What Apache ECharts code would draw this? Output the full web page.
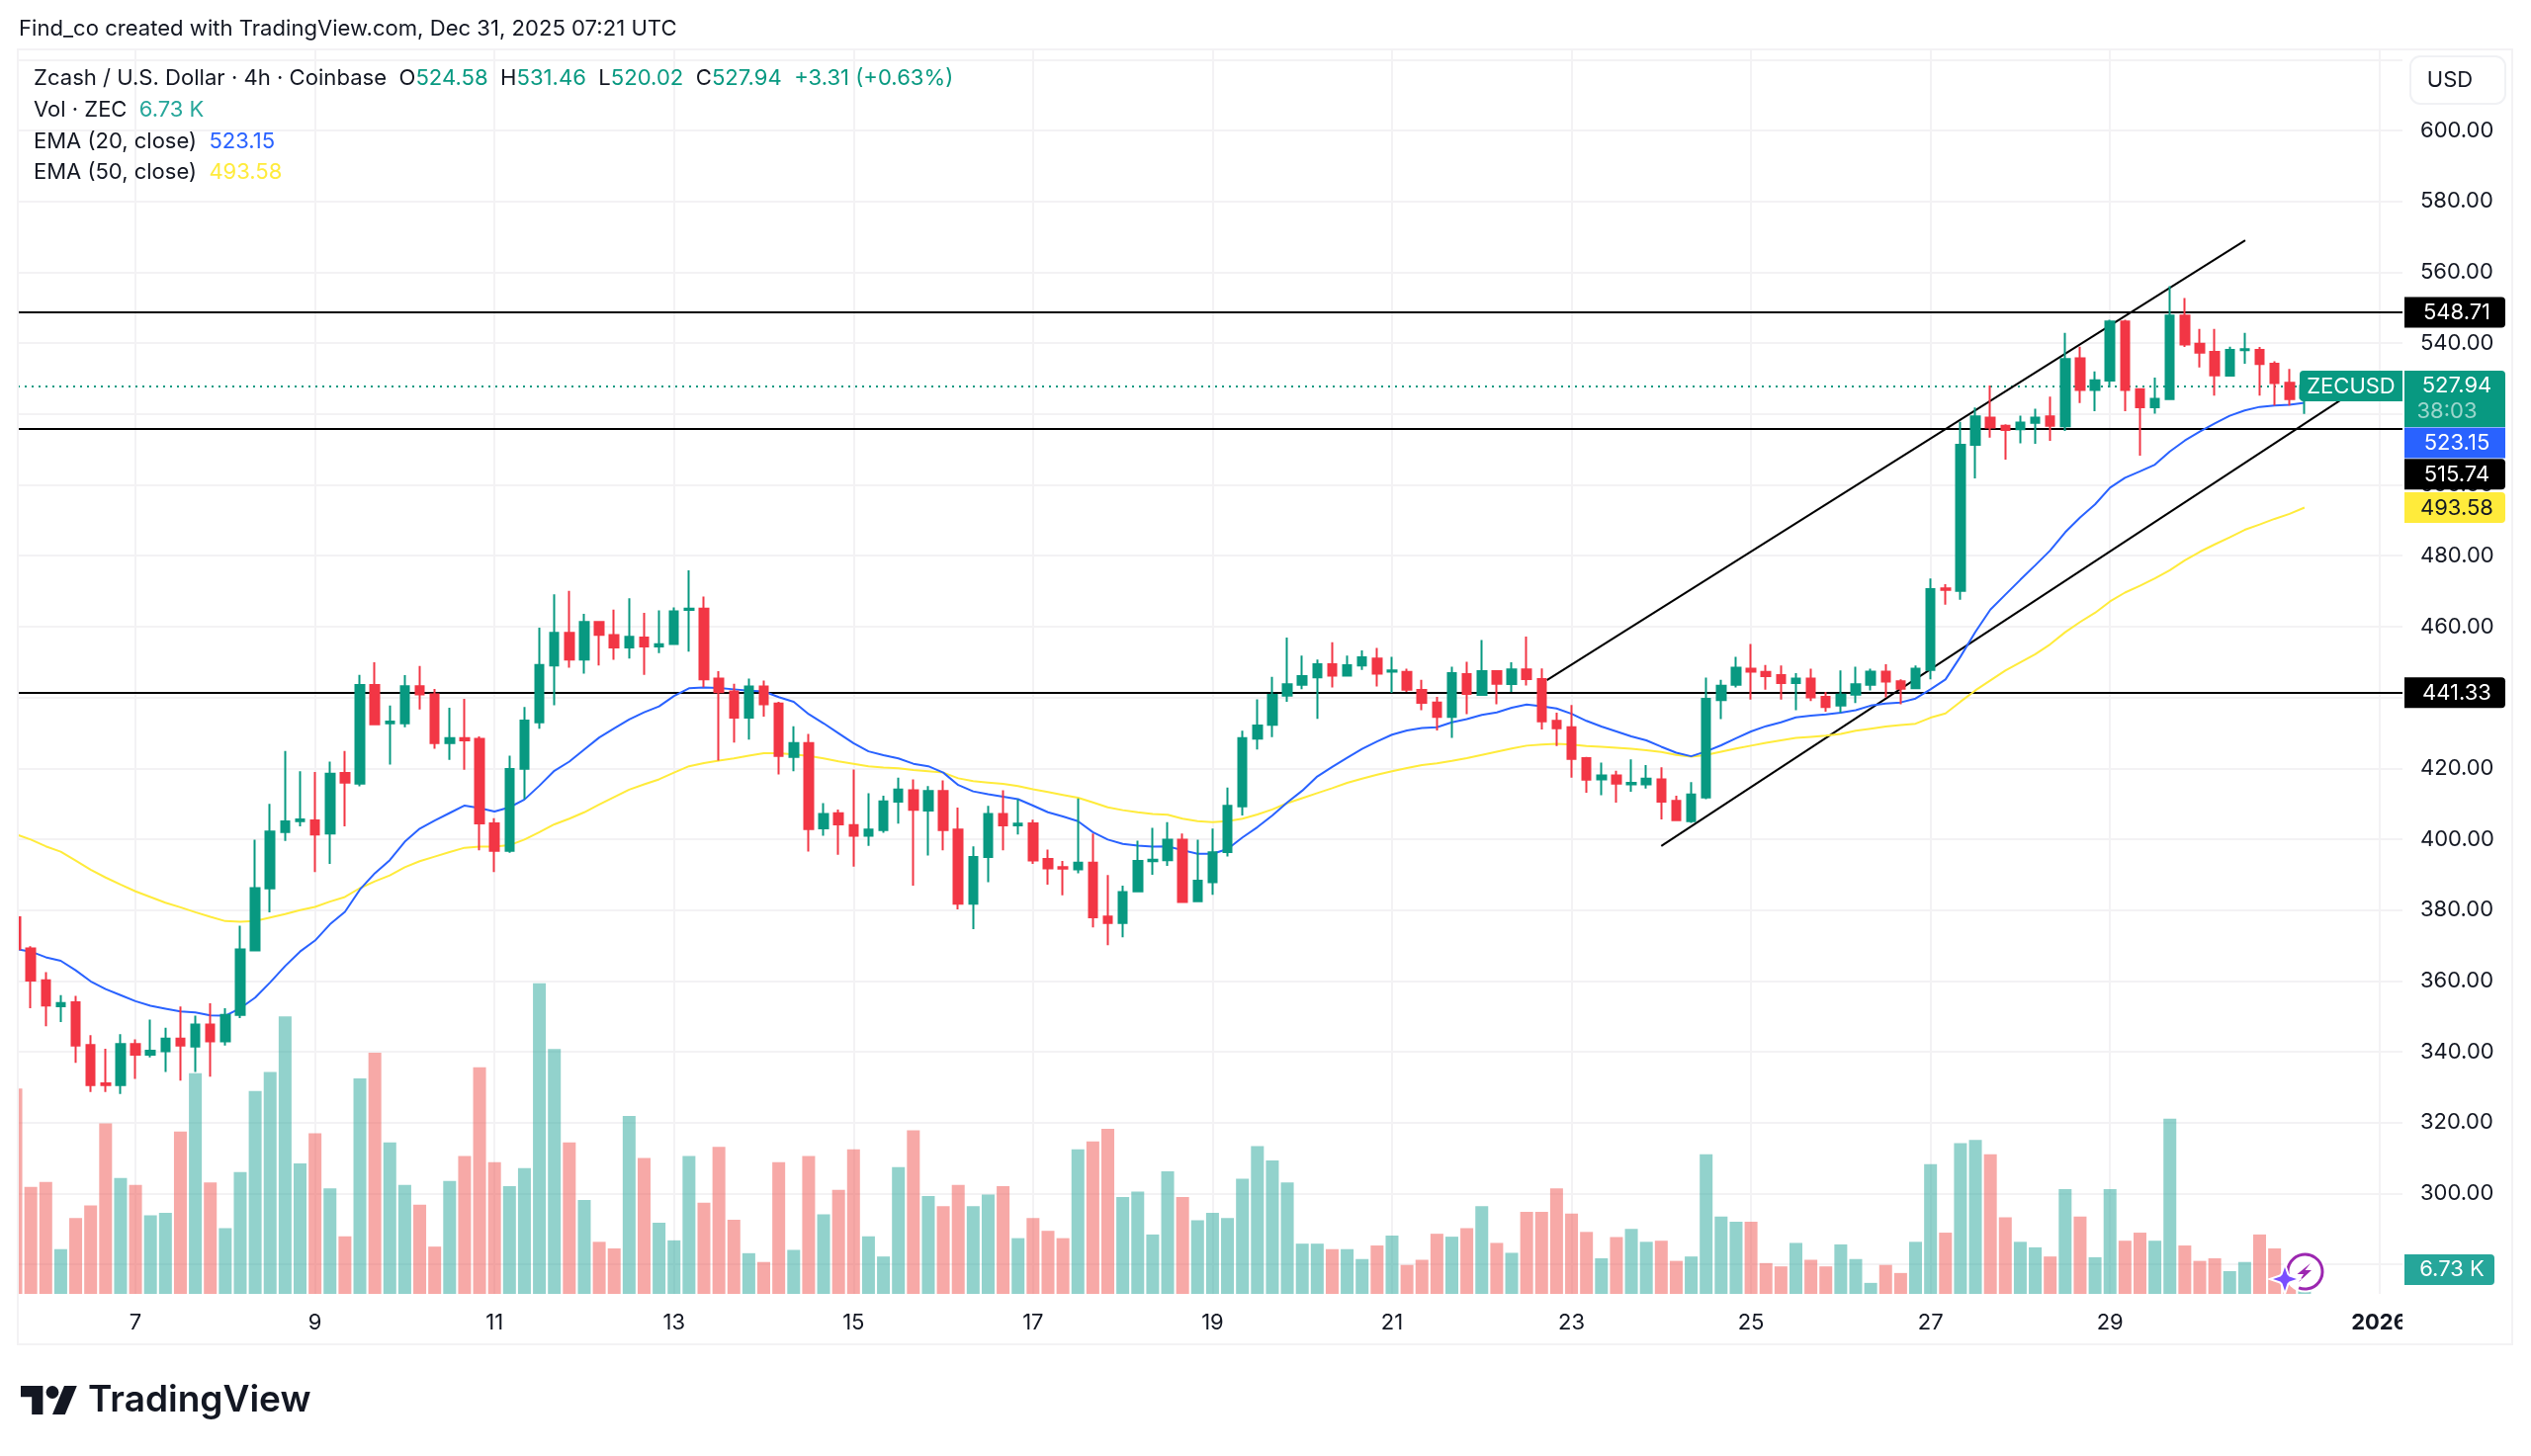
<!DOCTYPE html>
<html>
<head>
<meta charset="utf-8">
<title>ZECUSD 4h</title>
<style>html,body{margin:0;padding:0;background:#fff}#chart{width:2560px;height:1473px}</style>
<script src="https://cdn.jsdelivr.net/npm/echarts@6/dist/echarts.min.js"></script>
</head>
<body>
<div id="chart"></div>
<script>
// Zcash / U.S. Dollar, 4h bars from Coinbase, Dec 5 16:00 UTC to Dec 31 04:00 UTC.
// The horizontal axis counts bars; bar 8 opens Dec 7 00:00 UTC.
const openPrices = [378.0,369.2,360.2,352.9,354.0,341.9,331.1,330.6,342.2,339.2,340.2,343.7,341.5,347.7,343.0,350.4,368.6,386.1,402.0,405.1,405.3,401.6,418.7,415.7,443.5,432.7,432.7,443.2,440.9,427.1,428.5,428.3,404.5,396.7,419.9,433.0,449.0,458.2,450.7,461.3,457.6,454.1,456.9,454.4,455.1,464.7,465.1,445.3,441.7,434.3,443.1,438.3,423.2,427.1,403.1,407.3,404.0,401.0,402.6,410.6,413.8,408.1,413.6,402.7,381.8,395.0,407.1,403.9,404.5,394.4,392.1,391.5,393.4,378.2,376.4,385.3,393.8,394.1,399.9,382.5,387.9,396.4,409.3,428.4,432.3,440.5,443.6,445.7,449.4,446.2,449.0,451.0,447.3,447.2,442.1,438.6,434.5,446.6,440.7,447.4,443.8,447.9,445.2,433.4,431.6,422.9,416.9,418.0,415.5,415.5,416.9,410.8,405.1,411.8,439.3,443.6,448.1,447.2,446.3,444.1,445.3,440.2,437.7,440.8,443.6,447.3,444.6,442.6,447.8,470.8,470.1,511.3,519.0,516.7,515.7,517.5,519.3,516.5,535.7,526.8,529.4,546.1,527.0,521.9,524.2,547.8,539.8,537.5,530.8,538.0,538.1,534.2,528.8,524.58];
const closePrices = [369.0,360.1,353.1,353.8,341.8,330.6,330.6,342.2,339.2,340.3,343.7,341.8,347.7,343.0,350.4,368.9,386.2,402.2,405.0,405.6,401.3,418.5,416.0,443.5,432.4,433.2,443.2,440.9,427.1,428.5,427.9,404.5,396.7,419.8,433.5,449.2,458.2,450.7,461.3,457.7,454.1,457.1,454.4,455.0,464.3,465.1,445.1,441.5,434.3,443.1,438.1,423.5,427.1,402.9,407.1,404.2,401.0,402.7,410.7,414.0,408.3,413.6,402.6,381.8,395.0,407.1,403.9,404.4,394.0,391.8,391.7,393.4,378.0,376.4,385.1,393.9,394.2,399.9,382.3,388.3,396.3,409.4,428.5,432.1,440.7,443.7,446.0,449.4,446.2,449.1,451.3,446.7,447.6,442.2,438.5,434.5,446.9,441.0,447.4,443.9,447.9,445.2,433.3,431.3,422.7,416.8,418.0,415.7,415.9,417.1,410.6,405.4,412.6,439.6,443.3,448.4,447.3,446.0,444.1,445.3,440.0,437.3,440.8,443.7,447.3,444.5,442.5,448.1,470.6,470.4,511.3,519.3,516.2,515.5,517.6,519.0,516.7,535.5,526.8,529.5,546.1,526.8,521.9,524.3,547.8,539.6,537.3,530.9,538.1,538.3,534.1,528.7,524.2,527.94];
const lowPrices = [368.9,352.3,347.2,348.4,336.9,328.7,328.7,328.1,332.4,338.4,334.3,331.9,334.3,333.0,341.8,349.5,368.6,379.4,399.5,403.6,390.7,393.0,403.6,414.9,432.2,421.1,431.6,436.6,425.5,422.4,419.6,396.9,390.7,396.2,411.3,431.2,437.8,448.4,446.7,449.0,450.6,451.0,446.4,452.5,455.1,452.9,442.9,422.2,427.3,428.1,434.6,418.3,419.2,396.5,401.0,395.6,392.3,398.1,401.8,404.4,386.9,395.4,396.9,380.2,374.6,387.9,396.9,401.3,393.0,387.2,384.2,390.4,375.1,370.1,372.3,385.0,390.0,392.5,382.3,382.2,384.3,395.1,406.7,425.3,428.8,438.8,442.3,434.0,442.8,446.2,447.8,443.1,441.3,441.6,436.4,430.7,428.6,435.3,440.7,438.1,441.6,443.4,431.0,426.3,417.4,413.1,412.4,410.3,413.4,414.3,405.6,405.1,404.6,411.3,433.9,442.8,439.4,442.2,439.4,436.4,439.0,436.0,435.7,438.4,442.0,440.0,438.1,442.5,445.1,466.2,467.6,501.8,513.3,507.1,511.7,511.6,512.4,515.2,523.1,520.8,527.5,520.8,508.2,520.1,524.2,538.9,533.1,525.2,530.6,534.2,525.2,522.4,522.4,520.02];
const highPrices = [378.0,369.8,362.5,356.0,355.8,344.7,340.9,345.0,343.5,349.1,346.8,352.8,350.2,353.7,352.3,375.6,399.9,410.0,424.9,419.2,419.0,421.9,424.9,446.4,449.9,437.7,446.3,448.9,442.4,437.1,439.6,429.0,405.9,423.6,437.3,459.7,469.1,470.1,463.6,461.3,464.8,468.0,463.9,464.6,465.4,475.9,468.5,447.4,443.9,445.3,444.8,438.8,431.9,429.7,410.2,408.4,419.7,413.0,412.3,417.4,416.9,415.0,416.6,408.9,398.0,409.4,413.8,411.3,405.5,397.1,393.9,411.5,401.6,389.9,386.9,399.6,403.2,404.8,401.6,399.9,403.0,414.6,430.6,439.5,445.8,456.9,451.8,450.7,455.6,451.8,453.3,454.0,451.5,448.1,445.0,440.2,448.7,450.1,456.2,447.5,449.9,457.2,448.2,435.7,437.9,423.2,421.6,419.3,422.5,420.9,420.3,412.3,416.1,445.6,445.0,451.5,455.1,449.2,449.0,446.9,448.1,441.6,447.6,448.7,448.1,449.4,445.1,449.0,473.6,472.0,517.8,521.8,528.0,517.1,519.5,521.5,524.9,542.9,539.0,532.0,546.6,546.6,527.0,530.3,556.1,552.7,544.0,544.0,539.0,542.9,538.9,534.9,532.7,531.46];

// Traded volume per bar, thousands of ZEC.
const volumesK = [56.0,29.2,30.5,12.2,20.7,24.1,46.5,31.6,29.7,21.4,22.1,44.3,60.2,30.4,17.9,33.2,55.3,60.5,75.7,35.6,43.8,28.8,15.7,58.8,65.8,41.3,29.7,24.3,12.9,30.8,37.6,61.8,35.9,29.4,34.3,84.7,66.8,41.3,25.6,14.2,12.4,48.5,37.1,19.4,14.6,37.6,24.9,40.1,20.2,11.1,8.7,35.9,12.0,37.6,21.7,28.4,39.4,15.7,10.2,34.6,44.6,26.7,23.9,29.7,23.9,27.1,29.4,15.2,20.7,17.2,15.2,39.4,41.6,45.0,26.4,27.9,16.2,33.4,26.4,20.1,22.1,20.7,31.4,40.3,36.4,30.4,13.7,13.7,12.2,12.2,9.5,13.2,15.9,7.9,9.3,16.4,15.6,17.9,23.9,13.9,11.2,22.4,22.4,28.8,21.9,16.9,9.7,15.5,17.7,14.2,14.5,9.0,10.2,38.1,21.1,19.7,19.7,8.4,7.5,13.9,9.3,7.5,13.5,9.5,3.0,7.9,5.7,14.2,35.4,16.7,41.1,42.0,38.1,20.9,14.2,12.7,10.2,28.6,21.1,10.0,28.6,14.5,16.7,14.5,47.8,13.2,9.0,9.7,6.2,8.7,16.2,12.4,3.4,6.73];

const ema20Values = [369.0,368.3,366.7,365.7,363.0,359.9,357.7,356.0,354.3,353.0,352.2,351.4,351.1,350.3,350.2,352.3,355.3,359.6,364.2,368.3,371.4,376.0,379.5,385.8,390.4,394.1,399.3,403.0,405.3,407.4,409.5,408.8,407.8,409.0,411.2,415.1,419.3,421.9,425.3,428.7,431.3,433.8,435.8,437.5,440.4,442.6,442.8,442.7,442.3,441.9,441.7,440.1,438.8,435.3,432.7,429.9,427.1,424.8,423.7,422.8,421.3,420.6,418.8,415.3,413.5,412.7,412.0,411.3,409.5,407.6,406.4,405.1,402.0,399.9,398.7,398.2,397.9,398.0,396.9,395.9,395.9,397.2,400.5,403.4,406.7,410.4,413.7,417.7,420.4,423.0,425.5,427.6,429.5,430.7,431.4,431.6,433.0,433.9,435.1,435.8,437.1,438.0,437.5,436.9,435.4,433.4,431.8,430.4,429.0,427.9,426.1,424.4,423.4,424.8,426.5,428.5,430.4,431.9,433.0,434.4,434.9,435.2,435.7,436.4,437.7,438.3,438.6,439.7,442.3,445.1,451.5,458.5,464.8,469.0,473.2,477.3,481.5,486.6,490.8,494.5,499.2,502.0,503.8,505.7,509.4,512.5,515.0,517.3,519.5,521.0,522.0,522.4,522.6,523.15];
const ema50Values = [401.4,399.9,398.0,396.5,394.0,391.4,389.2,387.2,385.3,383.7,382.1,380.8,379.4,378.1,376.9,376.7,376.9,377.9,378.9,380.0,380.9,382.4,383.7,386.2,388.1,389.8,392.1,393.8,395.1,396.4,397.6,397.9,397.9,398.3,399.9,402.0,404.2,405.8,407.6,409.8,411.9,414.0,415.5,416.9,418.8,420.6,421.5,422.2,422.8,423.6,424.3,424.3,423.9,423.5,422.8,422.0,421.3,420.6,420.2,420.0,419.5,419.2,418.8,417.2,416.4,416.0,415.6,415.0,414.1,413.3,412.5,411.7,410.4,409.0,408.2,407.6,407.1,406.9,405.8,405.1,404.8,405.1,405.8,407.0,408.4,410.2,411.6,413.0,414.4,415.9,417.1,418.2,419.2,420.1,420.9,421.4,422.1,422.9,423.8,424.7,425.6,426.4,426.7,426.9,426.7,426.3,426.1,425.8,425.5,425.1,424.6,423.8,423.3,423.8,424.7,425.6,426.4,427.2,427.9,428.6,428.9,429.2,429.7,430.6,431.2,431.8,432.2,432.6,434.3,435.5,438.8,442.0,444.8,447.6,449.9,452.2,455.0,458.4,461.3,463.9,467.1,469.6,471.5,473.6,475.9,478.7,481.1,483.2,485.2,487.3,488.8,490.4,491.8,493.58];

// Drawn levels and channel, as [bar number, price] end points.
const horizontalLevels = [548.71, 515.74, 441.33];
const channelUpper = [[102.35, 444.9], [149.04, 569.0]];
const channelLower = [[110.0, 398.1], [155.7, 524.7]];
const lastClose = 527.94;

// Axis ticks.
const priceTicks = [300,320,340,360,380,400,420,440,460,480,500,540,560,580,600];
const priceGridValues = [280,300,320,340,360,380,400,420,440,460,480,500,520,540,560,580,600,620];
const dayTickBars = [8,20,32,44,56,68,80,92,104,116,128,140,158];
const dayTickLabels = ['7','9','11','13','15','17','19','21','23','25','27','29','2026'];

const UP = '#089981', DOWN = '#f23645', INK = '#131722', GRID = '#f3f2f4';
const FONT = 'Inter, "Noto Sans", sans-serif';

const candleData = openPrices.map((o, i) => [i, o, closePrices[i], lowPrices[i], highPrices[i]]);
const volumeData = volumesK.map((v, i) => ({
  value: [i, v],
  itemStyle: { color: closePrices[i] >= openPrices[i] ? '#26a69a' : '#ef5350', opacity: 0.5 }
}));
const lineData = values => values.map((v, i) => [i, v]);
const channelLine = pts => pts.map(p => ({ coord: [p[0], p[1]] }));

const chart = echarts.init(document.getElementById('chart'), null, { renderer: 'canvas' });

chart.setOption({
  animation: false,
  backgroundColor: '#ffffff',
  textStyle: { fontFamily: FONT },
  grid: { left: 18, right: 130, top: 50, bottom: 164, containLabel: false },
  xAxis: {
    type: 'value',
    min: 0.13,
    max: 159.55,
    axisLine: { show: false },
    axisTick: { show: false, customValues: dayTickBars },
    splitLine: { show: true, lineStyle: { color: GRID, width: 2 } },
    axisLabel: {
      customValues: dayTickBars,
      margin: 18,
      fontSize: 22,
      color: INK,
      fontFamily: FONT,
      hideOverlap: false,
      formatter: function (value) {
        const label = dayTickLabels[dayTickBars.indexOf(value)];
        return label.length === 4 ? '{year|' + label + '}' : label;
      },
      rich: { year: { fontSize: 22, fontWeight: 700, color: INK, fontFamily: FONT } }
    }
  },
  yAxis: [
    {
      type: 'value',
      position: 'right',
      min: 271.7,
      max: 622.87,
      axisLine: { show: false },
      axisTick: { show: false, customValues: priceGridValues },
      splitLine: { show: true, lineStyle: { color: GRID, width: 2 } },
      axisLabel: {
        customValues: priceTicks,
        margin: 18,
        align: 'left',
        fontSize: 22,
        color: INK,
        fontFamily: FONT,
        padding: [2, 0, 0, 0],
        formatter: v => v.toFixed(2)
      }
    },
    { type: 'value', min: 0, max: 339.4, show: false, splitLine: { show: false } }
  ],
  series: [
    {
      name: 'Vol',
      type: 'bar',
      yAxisIndex: 1,
      barWidth: 13,
      z: 1,
      data: volumeData
    },
    {
      name: 'Levels',
      type: 'line',
      data: [],
      z: 2,
      markLine: {
        silent: true,
        animation: false,
        z: 2,
        symbol: ['none', 'none'],
        label: { show: false },
        data: horizontalLevels.map(v => ({ yAxis: v, lineStyle: { color: '#000000', width: 2, type: 'solid' } }))
          .concat([{ yAxis: lastClose, lineStyle: { color: UP, width: 2, type: [2, 5] } }])
          .concat([channelLine(channelUpper), channelLine(channelLower)].map(pair => [
            Object.assign({}, pair[0], { lineStyle: { color: '#000000', width: 2, type: 'solid' } }),
            pair[1]
          ]))
      }
    },
    {
      name: 'EMA (50, close)',
      type: 'line',
      data: lineData(ema50Values),
      showSymbol: false,
      z: 3,
      lineStyle: { color: '#ffeb3b', width: 2 }
    },
    {
      name: 'EMA (20, close)',
      type: 'line',
      data: lineData(ema20Values),
      showSymbol: false,
      z: 3,
      lineStyle: { color: '#2962ff', width: 2 }
    },
    {
      name: 'ZECUSD',
      type: 'candlestick',
      barWidth: 9,
      z: 4,
      itemStyle: { color: UP, color0: DOWN, borderColor: UP, borderColor0: DOWN, borderWidth: 2 },
      data: candleData
    }
  ]
});

// Value tags on the price scale sit at their own price unless the stack pushes them down.
const priceTags = [
  { text: '548.71', value: 548.71, bg: '#000000', fg: '#ffffff', shift: 0 },
  { text: '523.15', value: 523.15, bg: '#2962ff', fg: '#ffffff', shift: 40.5 },
  { text: '515.74', value: 515.74, bg: '#000000', fg: '#ffffff', shift: 45.6 },
  { text: '493.58', value: 493.58, bg: '#ffeb3b', fg: '#131722', shift: 0 },
  { text: '441.33', value: 441.33, bg: '#000000', fg: '#ffffff', shift: 0 }
];
const toY = v => chart.convertToPixel({ yAxisIndex: 0 }, v);

const elements = [];
const text = (x, y, content, style) => elements.push({
  type: 'text', z: 120, silent: true,
  style: Object.assign({ x, y, text: content, fontFamily: FONT, fontSize: 22, fill: INK, verticalAlign: 'middle', align: 'left' }, style || {})
});
const box = (x, y, width, height, fill, r, z) => elements.push({
  type: 'rect', z: z || 110, silent: true, shape: { x, y, width, height, r: r || 0 }, style: { fill }
});

// The oldest bar starts left of the plot; the margin hides that part.
box(0, 40, 17, 1300, '#ffffff', 0, 60);
// Panel frame.
elements.push({ type: 'rect', z: 61, silent: true, shape: { x: 18, y: 50, width: 2523, height: 1310 }, style: { fill: 'none', stroke: GRID, lineWidth: 2 } });

// Hides the part of the year label that runs past the plot edge.
box(2430, 1318, 14, 40, '#ffffff');

text(19, 29.5, 'Find_co created with TradingView.com, Dec 31, 2025 07:21 UTC', { fontSize: 22.1 });

const richStyles = size => ({
  d: { fontSize: size, fontFamily: FONT, fill: INK },
  g: { fontSize: size, fontFamily: FONT, fill: UP },
  t: { fontSize: size, fontFamily: FONT, fill: '#26a69a' },
  b: { fontSize: size, fontFamily: FONT, fill: '#2962ff' },
  y: { fontSize: size, fontFamily: FONT, fill: '#ffeb3b' }
});
text(34, 79.5, '{d|Zcash / U.S. Dollar · 4h · Coinbase  O}{g|524.58}{d|  H}{g|531.46}{d|  L}{g|520.02}{d|  C}{g|527.94  +3.31 (+0.63%)}', { rich: richStyles(22.1) });
text(34, 111, '{d|Vol · ZEC  }{t|6.73 K}', { rich: richStyles(22) });
text(34, 143, '{d|EMA (20, close)  }{b|523.15}', { rich: richStyles(22) });
text(34, 174.5, '{d|EMA (50, close)  }{y|493.58}', { rich: richStyles(22) });

// Currency button.
elements.push({ type: 'rect', z: 110, silent: true, shape: { x: 2438, y: 57, width: 96, height: 48, r: 10 }, style: { fill: '#ffffff', stroke: '#f0f1f4', lineWidth: 2 } });
text(2478, 81.5, 'USD', { align: 'center' });

// Last-price block with the bar countdown.
box(2432, 375, 102, 57, UP, [0, 4, 0, 0]);
box(2326, 375, 104, 31, UP, [4, 0, 0, 4]);
text(2378, 391, 'ZECUSD', { align: 'center', fill: '#ffffff' });
text(2485, 390.5, '527.94', { align: 'center', fill: '#ffffff' });
text(2475, 416, '38:03', { align: 'center', fill: 'rgba(255,255,255,0.6)' });

priceTags.forEach(t => {
  const cy = toY(t.value) + t.shift;
  box(2432, cy - 15.5, 102, 31, t.bg, t.value === 523.15 ? 0 : [0, 4, 4, 0]);
  text(2485, cy + 0.5, t.text, { align: 'center', fill: t.fg });
});

// Volume tag.
box(2432, 1269, 91, 31, '#26a69a', [0, 4, 4, 0]);
text(2480, 1284.5, '6.73 K', { align: 'center', fill: '#ffffff' });

// Last-bar badge: a spark beside a circled lightning bolt.
elements.push({ type: 'circle', z: 125, silent: true, shape: { cx: 2331.5, cy: 1286.5, r: 21 }, style: { fill: '#ffffff' } });
elements.push({ type: 'arc', z: 126, silent: true, shape: { cx: 2331.5, cy: 1286.5, r: 17.5, startAngle: Math.PI * 0.95, endAngle: Math.PI * 0.62, clockwise: true }, style: { fill: 'none', stroke: '#9c27b0', lineWidth: 3 } });
elements.push({ type: 'polygon', z: 126, silent: true, shape: { points: [[2337, 1278], [2323.5, 1289], [2330, 1289], [2325, 1297], [2338, 1285], [2331.5, 1285]] }, style: { fill: '#9c27b0' } });
elements.push({ type: 'polygon', z: 127, silent: true, x: 2311, y: 1294, shape: { points: [[0, -12], [2.5, -4.5], [4.5, -2.5], [12, 0], [4.5, 2.5], [2.5, 4.5], [0, 12], [-2.5, 4.5], [-4.5, 2.5], [-12, 0], [-4.5, -2.5], [-2.5, -4.5]] }, style: { fill: '#7a4dff', stroke: '#ffffff', lineWidth: 4, strokeFirst: true } });

// Wordmark under the panel.
const logoTransform = { x: 21, y: 1395.7, scaleX: 1.6, scaleY: 1.6 };
elements.push(Object.assign({ type: 'polygon', z: 120, silent: true, shape: { points: [[0, 4], [14, 4], [14, 22], [7, 22], [7, 11], [0, 11]] }, style: { fill: INK } }, logoTransform));
elements.push(Object.assign({ type: 'polygon', z: 120, silent: true, shape: { points: [[20, 22], [27.5, 4], [35.5, 4], [28, 22]] }, style: { fill: INK } }, logoTransform));
elements.push(Object.assign({ type: 'circle', z: 120, silent: true, shape: { cx: 20, cy: 8, r: 4 }, style: { fill: INK } }, logoTransform));
text(89, 1417, 'TradingView', { fontSize: 37, fontWeight: 600 });

chart.setOption({ graphic: { elements } });
</script>
</body>
</html>
